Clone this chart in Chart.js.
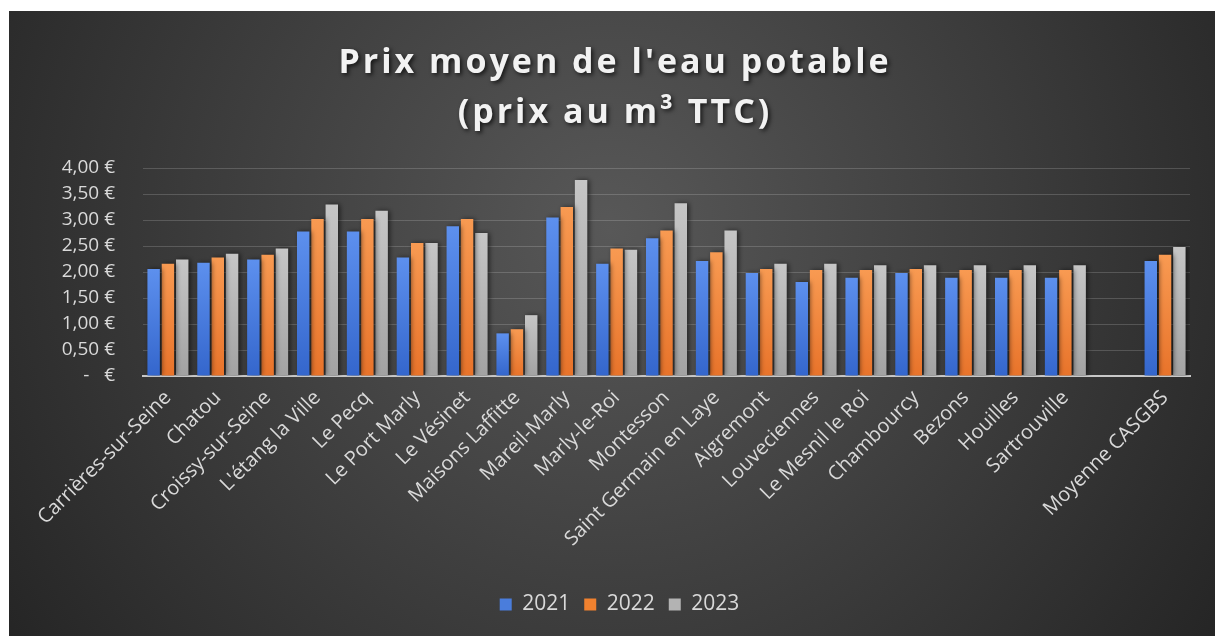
<!DOCTYPE html>
<html><head><meta charset="utf-8">
<script src="https://cdn.jsdelivr.net/npm/chart.js@4/dist/chart.umd.min.js"></script>
<style>html,body{margin:0;padding:0;background:#fff;overflow:hidden}canvas{display:block}</style>
</head><body>
<canvas id="c" width="1215" height="636"></canvas>
<script>
const categories = ["Carrières-sur-Seine","Chatou","Croissy-sur-Seine","L'étang la Ville","Le Pecq","Le Port Marly","Le Vésinet","Maisons Laffitte","Mareil-Marly","Marly-le-Roi","Montesson","Saint Germain en Laye","Aigremont","Louveciennes","Le Mesnil le Roi","Chambourcy","Bezons","Houilles","Sartrouville","","Moyenne CASGBS"];
const values2021 = [2.06,2.18,2.24,2.78,2.78,2.28,2.88,0.82,3.05,2.16,2.65,2.21,1.98,1.81,1.89,1.98,1.89,1.89,1.89,null,2.21];
const values2022 = [2.16,2.28,2.33,3.02,3.02,2.56,3.02,0.90,3.25,2.45,2.80,2.38,2.06,2.04,2.04,2.06,2.04,2.04,2.04,null,2.33];
const values2023 = [2.24,2.35,2.45,3.30,3.18,2.56,2.75,1.17,3.77,2.43,3.32,2.80,2.16,2.16,2.13,2.13,2.13,2.13,2.13,null,2.48];
const seriesNames = ["2021","2022","2023"];
const yTickLabels = ["-   €","0,50 €","1,00 €","1,50 €","2,00 €","2,50 €","3,00 €","3,50 €","4,00 €"];
const titleLines = ["Prix moyen de l'eau potable","(prix au m³ TTC)"];

const solid = ["#4a7ddc","#f0812f","#b3b3b3"];
const grads = [["#5d90ee","#3466cc"],["#f89a52","#e8732a"],["#c6c6c6","#a2a2a2"]];
function barColor(i){
  return function(ctx){
    const chart = ctx.chart;
    if (ctx.type !== 'data' || !chart.chartArea || ctx.raw == null) return solid[i];
    const y = chart.scales.y;
    const top = y.getPixelForValue(ctx.raw), base = y.getPixelForValue(0);
    const g = chart.ctx.createLinearGradient(0, top, 0, base);
    g.addColorStop(0, grads[i][0]); g.addColorStop(1, grads[i][1]);
    return g;
  };
}

const bgPlugin = {
  id:'bg',
  beforeDraw(chart){
    const c = chart.ctx, w = chart.width, h = chart.height;
    c.save();
    c.fillStyle = '#ffffff'; c.fillRect(0,0,w,h);
    const g = c.createRadialGradient(610,230,0,610,230,760);
    g.addColorStop(0,'#585858'); g.addColorStop(0.55,'#3b3b3b'); g.addColorStop(1,'#232323');
    c.fillStyle = g; c.fillRect(9,11,w-9,h-11);
    c.restore();
  }
};
const titlePlugin = {
  id:'ttl',
  afterDraw(chart){
    const c = chart.ctx;
    c.save();
    c.font = '700 34px "Open Sans"';
    if ('letterSpacing' in c) c.letterSpacing = '3px';
    c.textAlign = 'center'; c.textBaseline = 'alphabetic';
    c.shadowColor = 'rgba(0,0,0,0.7)'; c.shadowBlur = 4; c.shadowOffsetX = 2; c.shadowOffsetY = 2;
    c.fillStyle = '#f2f2f2';
    c.fillText(titleLines[0], 615, 73);
    c.fillText(titleLines[1], 615, 123);
    c.restore();
  }
};
const shadowPlugin = {
  id:'shd',
  beforeDatasetsDraw(chart){ const c=chart.ctx; c.save(); c.shadowColor='rgba(0,0,0,0.55)'; c.shadowBlur=5; c.shadowOffsetX=2; c.shadowOffsetY=0; },
  afterDatasetsDraw(chart){ chart.ctx.restore(); }
};

new Chart(document.getElementById('c'), {
  type:'bar',
  data:{
    labels: categories,
    datasets:[
      {label:seriesNames[0], data:values2021, backgroundColor:barColor(0)},
      {label:seriesNames[1], data:values2022, backgroundColor:barColor(1)},
      {label:seriesNames[2], data:values2023, backgroundColor:barColor(2)}
    ]
  },
  options:{
    responsive:false, animation:false, devicePixelRatio:1,
    categoryPercentage:0.86, barPercentage:0.87,
    layout:{padding:{top:168,left:49,right:25,bottom:11}},
    plugins:{
      tooltip:{enabled:false},
      title:{display:false},
      legend:{
        position:'bottom',
        labels:{
          color:'#d9d9d9', font:{family:'"Open Sans"', size:21}, boxWidth:12, boxHeight:12, padding:14,
          generateLabels(chart){
            return chart.data.datasets.map((d,i)=>({text:d.label, fillStyle:solid[i], strokeStyle:solid[i], lineWidth:0, fontColor:'#d9d9d9', datasetIndex:i, hidden:false}));
          }
        }
      }
    },
    scales:{
      x:{
        grid:{display:false},
        border:{display:true,color:'#c8c8c8',width:2},
        ticks:{color:'#d9d9d9', font:{family:'"Open Sans"', size:20}, maxRotation:45, minRotation:45, autoSkip:false, padding:2},
        afterFit(s){ s.height = 204; }
      },
      y:{
        min:0, max:4,
        grid:{color:'rgba(255,255,255,0.17)', lineWidth:1, drawTicks:false},
        border:{display:false},
        ticks:{stepSize:0.5, autoSkip:false, color:'#d9d9d9', font:{family:'"Open Sans"', size:19, lineHeight:1}, padding:28,
          callback:(v,i)=>yTickLabels[i]},
        afterFit(s){ s.width = 94; }
      }
    }
  },
  plugins:[bgPlugin, shadowPlugin, titlePlugin]
});
</script>
</body></html>
